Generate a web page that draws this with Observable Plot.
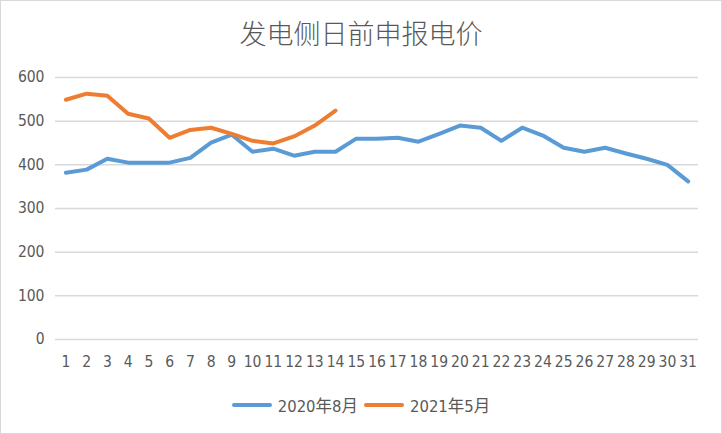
<!DOCTYPE html>
<html>
<head>
<meta charset="utf-8">
<script src="https://cdn.jsdelivr.net/npm/d3@7"></script>
<script src="https://cdn.jsdelivr.net/npm/@observablehq/plot@0.6"></script>
<style>
  html, body { margin: 0; padding: 0; background: #fff; }
  #wrap { position: relative; width: 722px; height: 434px; overflow: hidden; background: #fff; }
  #frame { position: absolute; left: 0; top: 0; width: 722px; height: 434px; box-sizing: border-box; border: 1px solid #d9d9d9; pointer-events: none; }
  #title { position: absolute; left: 0; top: 14px; width: 722px; text-align: center; font-family: "Noto Sans CJK SC", sans-serif; font-size: 27px; font-weight: 300; color: #595959; line-height: 38px; }
  #chart { position: absolute; left: 0; top: 60px; }
  #legend { position: absolute; left: 0; top: 393px; width: 722px; display: flex; justify-content: center; align-items: center; font-family: "Liberation Sans Narrow", "DejaVu Sans Condensed", "Noto Sans CJK SC", sans-serif; font-size: 16.5px; color: #595959; }
  .item { display: flex; align-items: center; margin: 0 3px; }
  .swatch { width: 40px; height: 4px; border-radius: 2px; margin-right: 6px; }
</style>
</head>
<body>
<div id="wrap">
  <div id="title">发电侧日前申报电价</div>
  <div id="chart"></div>
  <div id="legend"></div>
  <div id="frame"></div>
</div>
<script>
const days = d3.range(1, 32);
const seriesNames = ["2020年8月", "2021年5月"];
const seriesColors = ["#5B9BD5", "#ED7D31"];
const aug2020 = [382, 389, 414, 405, 405, 405, 416, 451, 469, 430, 437, 421, 430, 430, 460, 460, 462, 453, 471, 490, 485, 455, 485, 467, 439, 430, 439, 426, 414, 400, 362];
const may2021 = [549, 563, 558, 517, 506, 462, 480, 485, 471, 455, 449, 465, 490, 524];
const yTicks = [0, 100, 200, 300, 400, 500, 600];

const rows = [
  ...aug2020.map((v, i) => ({day: days[i], value: v, series: seriesNames[0]})),
  ...may2021.map((v, i) => ({day: days[i], value: v, series: seriesNames[1]}))
];

const plot = Plot.plot({
  width: 722,
  height: 320,
  marginLeft: 55,
  marginRight: 24,
  marginTop: 17,
  marginBottom: 41,
  style: {fontFamily: '"Liberation Sans Narrow", "DejaVu Sans Condensed", sans-serif', fontSize: "15.5px", color: "#595959", background: "transparent"},
  x: {domain: [0.5, 31.5], ticks: days, tickFormat: d => String(d), label: null},
  y: {domain: [0, 600], ticks: yTicks, label: null},
  color: {domain: seriesNames, range: seriesColors},
  marks: [
    Plot.gridY(yTicks, {stroke: "#d9d9d9", strokeOpacity: 1, strokeWidth: 1.5}),
    Plot.axisX({ticks: days, tickSize: 0, tickPadding: 16, tickFormat: d => String(d), label: null, fill: "#595959"}),
    Plot.axisY({ticks: yTicks, tickSize: 0, tickPadding: 11, label: null, fill: "#595959"}),
    Plot.line(rows, {x: "day", y: "value", z: "series", stroke: "series", strokeWidth: 4, strokeLinejoin: "round", strokeLinecap: "round"})
  ]
});
document.getElementById("chart").appendChild(plot);

const legend = document.getElementById("legend");
seriesNames.forEach((name, i) => {
  const item = document.createElement("div");
  item.className = "item";
  const sw = document.createElement("div");
  sw.className = "swatch";
  sw.style.background = seriesColors[i];
  const label = document.createElement("span");
  label.textContent = name;
  item.appendChild(sw);
  item.appendChild(label);
  legend.appendChild(item);
});
</script>
</body>
</html>
